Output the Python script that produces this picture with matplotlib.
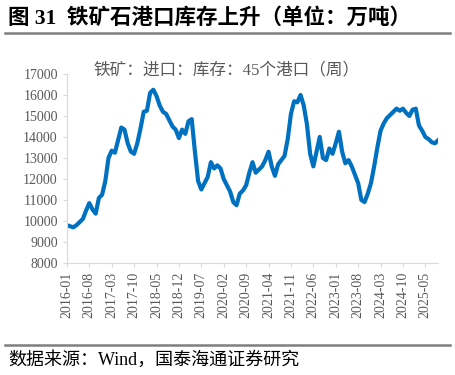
import matplotlib
matplotlib.use('agg')
import matplotlib.pyplot as plt
from matplotlib.lines import Line2D

plt.rcParams['font.family'] = ['Liberation Serif', 'Noto Sans CJK SC', 'DejaVu Sans']

# monthly readings of the weekly series, 2016-01 .. 2025-09 (万吨)
months = [f"{2016 + i // 12}-{i % 12 + 1:02d}" for i in range(117)]
stock = [
    9800, 9750, 9700, 9800, 9950, 10100, 10500, 10850, 10550, 10350, 11100, 11250,
    11900, 13000, 13350, 13250, 13850, 14450, 14350, 13700, 13300, 13200, 13700, 14400,
    15200, 15250, 16100, 16250, 15950, 15500, 15200, 15100, 14800, 14500, 14350, 13950,
    14350, 14150, 14750, 14850, 13300, 11900, 11500, 11800, 12100, 12800, 12500, 12650,
    12500, 12000, 11700, 11400, 10900, 10750, 11300, 11450, 11700, 12300, 12800, 12300,
    12450, 12600, 12900, 13300, 12600, 12150, 12700, 12900, 13100, 13900, 15100, 15700,
    15650, 16000, 15500, 14600, 13200, 12600, 13300, 14000, 13000, 12900, 13450, 13200,
    13700, 14250, 13300, 12750, 12900, 12600, 12200, 11800, 11000, 10900, 11300, 11800,
    12600, 13500, 14300, 14650, 14900, 15050, 15200, 15350, 15250, 15350, 15150, 15000,
    15300, 15350, 14550, 14300, 14000, 13900, 13750, 13700, 13850,
]
tick_step = 7
series_name = '铁矿：进口：库存：45个港口（周）'
title = '图 31  铁矿石港口库存上升（单位：万吨）'
source = '数据来源：Wind，国泰海通证券研究'

fig = plt.figure(figsize=(4.55, 3.75), dpi=100)
ax = fig.add_axes([0.147, 0.2987, 0.816, 0.504])

x = list(range(len(stock)))
ax.plot(x, stock, color='#0070C0', linewidth=3.0, solid_joinstyle='round')

ax.set_xlim(0, len(stock) - 1)
ax.set_ylim(8000, 17000)
ax.set_yticks(range(8000, 17001, 1000))
ax.set_xticks(x[::tick_step])
ax.set_xticklabels(months[::tick_step], rotation=90)

for s in ['top', 'right']:
    ax.spines[s].set_visible(False)
for s in ['left', 'bottom']:
    ax.spines[s].set_color('#d9d9d9')
ax.tick_params(colors='#595959', labelsize=10, length=3, width=0.8)
ax.tick_params(axis='both', color='#d9d9d9')

ax.text(0.43, 1.02, series_name, transform=ax.transAxes, ha='center', va='center',
        fontsize=12, color='#595959')

fig.text(0.018, 0.952, title, fontsize=15.5, fontweight='bold', va='center', color='black')
fig.text(0.018, 0.04, source, fontsize=13, va='center', color='black')

fig.add_artist(Line2D([0.011, 0.989], [0.912, 0.912], color='#7f7f7f', linewidth=1.8))
fig.add_artist(Line2D([0.011, 0.989], [0.08, 0.08], color='#7f7f7f', linewidth=1.8))

plt.savefig('out.png', dpi=100)
plt.close()
